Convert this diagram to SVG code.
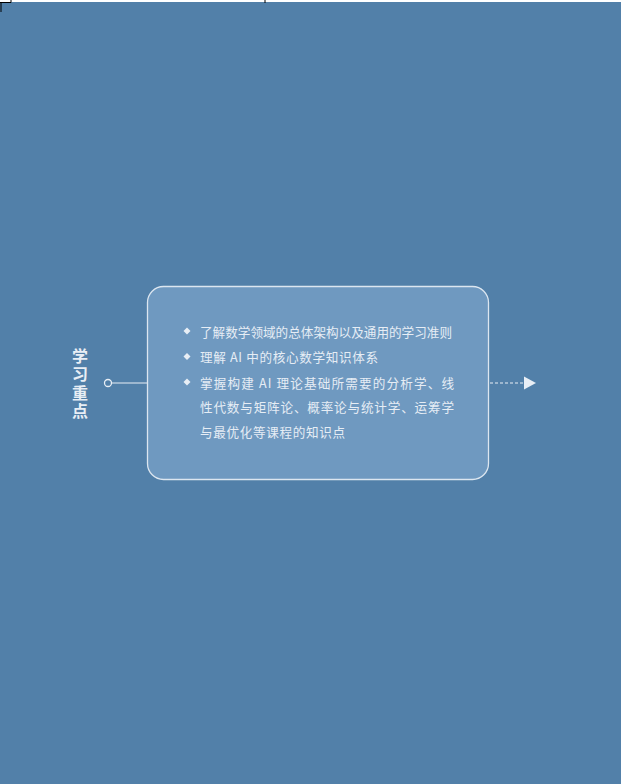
<svg xmlns="http://www.w3.org/2000/svg" width="621" height="784" viewBox="0 0 621 784">
<style>
.t{font-family:"Noto Sans CJK SC","Noto Sans",sans-serif;fill:#e6edf5;font-size:12.6px}
.h{font-family:"Noto Sans CJK SC","Noto Sans",sans-serif;fill:#e8eef5;font-size:16px;font-weight:bold;writing-mode:vertical-rl;letter-spacing:2.5px}
</style>
<rect x="0" y="0" width="621" height="784" fill="#5280a9"/>
<rect x="0" y="0" width="621" height="2" fill="#ffffff"/>
<path d="M0 2.5H11V0M1 2.5V12M265 0V3" stroke="#000" stroke-width="1" fill="none"/>
<g id="title">
<text class="h" x="80" y="347.5">学习重点</text>
</g>
<g id="connectors">
<circle cx="108" cy="383" r="3.5" fill="none" stroke="#e8eef5" stroke-width="1.3"/>
<line x1="111.5" y1="383" x2="147" y2="383" stroke="#e8eef5" stroke-width="1"/>
<line x1="490" y1="383" x2="524" y2="383" stroke="#e8eef5" stroke-width="1" stroke-dasharray="3,2"/>
<polygon points="524,376.5 536,383 524,389.5" fill="#e8eef5"/>
</g>
<g id="box">
<rect x="147.5" y="286.5" width="341" height="193" rx="16" fill="#6f99c0" stroke="#dce6f0" stroke-width="1.3"/>
<polygon points="187,327.5 190.5,331 187,334.5 183.5,331" fill="#e8eef5"/>
<polygon points="187,353 190.5,356.5 187,360 183.5,356.5" fill="#e8eef5"/>
<polygon points="187,378.5 190.5,382 187,385.5 183.5,382" fill="#e8eef5"/>
<text class="t" x="200" y="337" textLength="252" lengthAdjust="spacing">了解数学领域的总体架构以及通用的学习准则</text>
<text class="t" x="200" y="362" textLength="178" lengthAdjust="spacing">理解 AI 中的核心数学知识体系</text>
<text class="t" x="200" y="388" textLength="254" lengthAdjust="spacing">掌握构建 AI 理论基础所需要的分析学、线</text>
<text class="t" x="200" y="412" textLength="254" lengthAdjust="spacing">性代数与矩阵论、概率论与统计学、运筹学</text>
<text class="t" x="200" y="437" textLength="145" lengthAdjust="spacing">与最优化等课程的知识点</text>
</g>
</svg>
